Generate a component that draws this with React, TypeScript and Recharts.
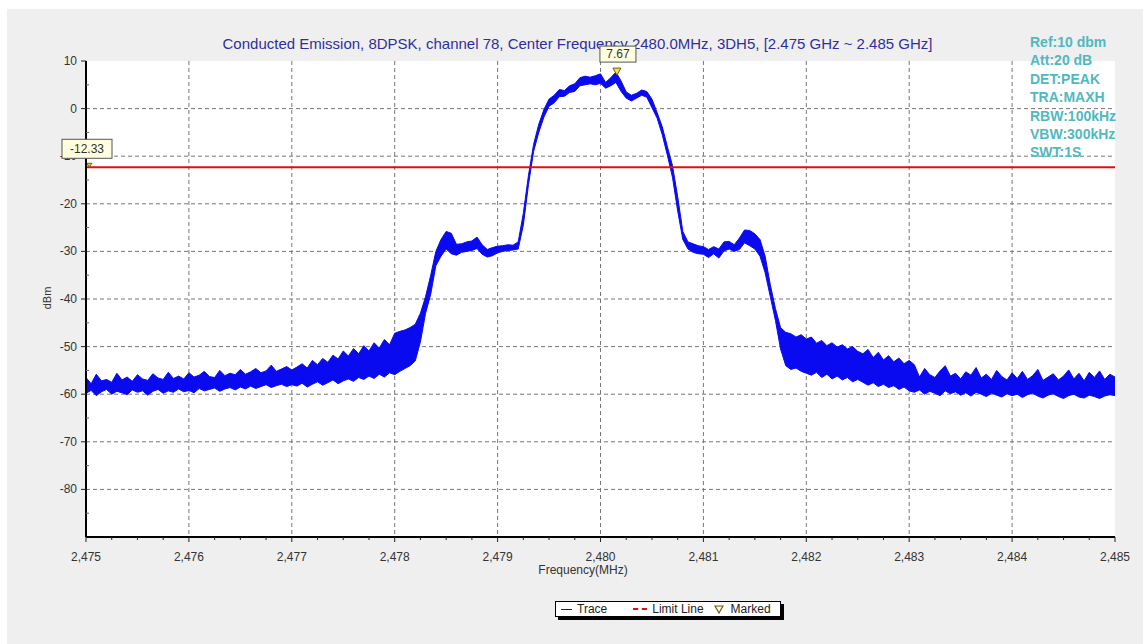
import React from 'react';
import {
  ComposedChart,
  Area,
  XAxis,
  YAxis,
  CartesianGrid,
  ReferenceLine,
  ReferenceDot,
} from 'recharts';

const TITLE =
  'Conducted Emission, 8DPSK, channel 78, Center Frequency 2480.0MHz, 3DH5, [2.475 GHz ~ 2.485 GHz]';
const SETTINGS = ['Ref:10 dbm', 'Att:20 dB', 'DET:PEAK', 'TRA:MAXH', 'RBW:100kHz', 'VBW:300kHz', 'SWT:1S'];

const X_MAJOR = [2475, 2476, 2477, 2478, 2479, 2480, 2481, 2482, 2483, 2484, 2485];
const X_MINOR = [
  2475.25, 2475.5, 2475.75, 2476.25, 2476.5, 2476.75, 2477.25, 2477.5, 2477.75,
  2478.25, 2478.5, 2478.75, 2479.25, 2479.5, 2479.75, 2480.25, 2480.5, 2480.75,
  2481.25, 2481.5, 2481.75, 2482.25, 2482.5, 2482.75, 2483.25, 2483.5, 2483.75,
  2484.25, 2484.5, 2484.75,
];
const Y_MAJOR = [10, 0, -10, -20, -30, -40, -50, -60, -70, -80];
const Y_MINOR = [5, -5, -15, -25, -35, -45, -55, -65, -75, -85];
const Y_GRID = [0, -10, -20, -30, -40, -50, -60, -70, -80];
const X_GRID = [2476, 2477, 2478, 2479, 2480, 2481, 2482, 2483, 2484];

const LIMIT_DBM = -12.33;
const PEAK_FREQ = 2480.15;
const PEAK_DBM = 7.67;

// trace sampled every 50 kHz from 2475 MHz: upper and lower edge of the max-hold band
const F_START = 2475;
const F_STEP = 0.05;
const TRACE_HI = [
  -56.5, -57.8, -55.8, -57.2, -56.9, -57.5, -55.6, -57.0, -56.4, -57.3,
  -55.9, -56.8, -57.1, -55.7, -56.6, -56.9, -55.4, -56.7, -56.2, -56.8,
  -55.5, -56.4, -56.0, -55.2, -56.3, -56.5, -55.0, -56.1, -55.6, -55.9,
  -54.8, -55.8, -55.3, -54.6, -55.5, -55.1, -53.9, -55.2, -54.7, -54.2,
  -54.9, -54.3, -53.6, -54.5, -52.9, -53.8, -52.5, -53.3, -51.8, -52.6,
  -50.9, -52.0, -50.4, -51.5, -49.8, -50.9, -49.2, -50.3, -48.5, -49.6,
  -47.2, -46.8, -46.5, -46.0, -45.3, -43.0, -39.5, -35.0, -30.0, -27.5,
  -25.8, -26.2, -28.5, -28.4, -28.0, -27.8, -27.0, -28.6, -29.6, -29.2,
  -28.9, -28.8, -28.6, -28.7, -28.0, -22.0, -14.0, -7.5, -3.3, -0.2,
  2.0, 2.8, 4.0, 3.8, 4.8, 5.2, 6.5, 6.8, 6.6, 6.9,
  7.3, 5.5, 6.5, 7.67, 5.8, 3.5, 2.8, 3.2, 3.9, 3.6,
  2.0, -0.8, -3.8, -8.0, -12.0, -18.5, -25.8, -28.0, -28.4, -28.8,
  -29.0, -29.6, -29.0, -29.5, -28.0, -27.9, -28.6, -27.2, -25.5, -25.6,
  -26.3, -27.5, -31.0, -37.0, -42.0, -46.0, -47.0, -47.3, -48.0, -47.5,
  -48.4, -48.0, -49.3, -48.7, -49.8, -49.2, -50.1, -49.6, -50.5, -50.0,
  -51.0, -51.5, -50.6, -52.3, -51.2, -52.8, -51.9, -53.2, -52.4, -53.6,
  -52.9, -53.8, -56.4, -54.6, -55.9, -56.5, -55.1, -54.0, -56.2, -55.6,
  -56.8, -55.3, -56.0, -54.4, -56.6, -55.8, -56.9, -55.0, -56.3, -57.0,
  -55.5, -56.7, -55.2, -56.9, -56.1, -54.8, -57.1, -56.4, -55.7, -57.0,
  -56.2, -54.9, -56.8, -55.6, -57.2, -55.4, -56.5, -55.1, -56.9, -55.8,
  -56.4,
];
const TRACE_LO = [
  -59.8, -59.2, -60.3, -59.5, -59.0, -60.0, -59.4, -59.7, -60.1, -59.1,
  -59.6, -59.3, -60.2, -59.4, -59.0, -59.8, -59.3, -59.6, -58.9, -59.5,
  -59.2, -59.7, -58.8, -59.3, -59.0, -58.7, -59.4, -58.9, -58.6, -59.1,
  -58.5, -58.9, -58.3, -58.8, -58.4, -58.0, -58.6, -58.2, -57.9, -58.4,
  -58.0, -58.3, -57.7, -58.5, -57.9, -57.4, -58.1, -57.6, -57.0, -57.8,
  -57.2, -56.8, -57.3, -56.5, -56.9, -56.2, -56.7, -55.8, -56.4, -55.5,
  -55.9, -55.2, -54.6, -54.0, -53.0, -49.0, -43.0, -39.0, -33.0, -31.0,
  -29.5, -30.5, -30.8, -30.2, -30.0, -29.8, -29.4, -30.6, -31.2, -30.9,
  -30.3, -30.0, -29.8, -29.7, -29.5, -24.5, -16.0, -9.0, -5.0, -1.8,
  0.5, 1.2, 2.5, 2.6, 3.4, 3.6, 4.8, 5.0, 5.2, 5.0,
  5.3, 4.3, 4.8, 5.5, 3.6, 2.2, 1.6, 2.2, 2.8, 2.4,
  0.2, -2.0, -5.5, -9.8, -14.5, -21.5, -27.5, -29.5, -30.2, -30.5,
  -30.6, -31.3, -30.5, -31.4, -29.9, -29.5, -30.0, -29.6, -28.2, -28.8,
  -29.5, -31.0, -34.5, -39.5, -44.5, -50.5, -54.0, -54.8, -54.5, -55.2,
  -55.6, -56.0, -55.4, -56.5, -55.8, -56.8, -56.2, -57.0, -56.5, -57.4,
  -56.9, -57.5, -58.1, -57.6, -58.4, -57.9, -58.6, -58.2, -59.0, -58.5,
  -59.3, -59.6, -59.1, -60.0, -59.4, -59.8, -60.3, -59.3, -59.9, -59.5,
  -60.2, -59.7, -60.4, -59.6, -60.0, -60.5, -59.8, -60.2, -60.6, -59.9,
  -60.3, -60.0, -60.7, -60.1, -59.8, -60.4, -60.8, -60.2, -59.9, -60.5,
  -60.9, -60.3, -60.0, -60.6, -60.8, -60.2, -60.5, -60.9, -60.4, -60.1,
  -60.3,
];

const data = TRACE_HI.map((hi, i) => ({
  f: +(F_START + i * F_STEP).toFixed(2),
  band: [TRACE_LO[i], hi],
}));

const FONT = '"Liberation Sans", Arial, sans-serif';
const TRACE_BLUE = '#0a0af0';

const fmtFreq = (v: number) => `${Math.floor(v / 1000)},${String(v % 1000).padStart(3, '0')}`;

const XTick = (props: any) => {
  const { x, y, payload } = props;
  const major = X_MAJOR.includes(payload.value);
  return (
    <g>
      <line x1={x} x2={x} y1={y} y2={y + (major ? 5 : 3)} stroke="#222" />
      {major && (
        <text x={x} y={y + 24} textAnchor="middle" fontSize={12} fill="#333" fontFamily={FONT}>
          {fmtFreq(payload.value)}
        </text>
      )}
    </g>
  );
};

const YTick = (props: any) => {
  const { x, y, payload } = props;
  const major = Y_MAJOR.includes(payload.value);
  if (!major) return <line x1={x} x2={x + 3} y1={y} y2={y} stroke="#666" />;
  return (
    <g>
      <line x1={x - 5} x2={x} y1={y} y2={y} stroke="#222" />
      <text x={x - 9} y={y + 4} textAnchor="end" fontSize={12} fill="#333" fontFamily={FONT}>
        {payload.value}
      </text>
    </g>
  );
};

const PeakMarker = ({ cx, cy }: { cx?: number; cy?: number }) => {
  const x = cx ?? 0;
  const y = cy ?? 0;
  return (
    <g>
      <rect x={x - 16} y={y - 26} width={36} height={16} fill="#ffffe0" stroke="#555" />
      <text x={x + 2} y={y - 14} textAnchor="middle" fontSize={12} fill="#333" fontFamily={FONT}>
        {PEAK_DBM.toFixed(2)}
      </text>
      <polygon points={`${x - 3},${y - 4} ${x + 5},${y - 4} ${x + 1},${y + 3}`} fill="#f2e15c" stroke="#6b5a10" />
    </g>
  );
};

const LimitMarker = ({ cx, cy }: { cx?: number; cy?: number }) => {
  const x = cx ?? 0;
  const y = cy ?? 0;
  return (
    <g>
      <rect x={x - 24} y={y - 28} width={50} height={19} fill="#ffffe0" stroke="#555" />
      <text x={x + 1} y={y - 14} textAnchor="middle" fontSize={12} fill="#333" fontFamily={FONT}>
        {LIMIT_DBM.toFixed(2)}
      </text>
      <polygon points={`${x + 1},${y - 4} ${x + 6},${y - 4} ${x + 3},${y}`} fill="#f2c040" stroke="#8a5a10" />
    </g>
  );
};

export default function App() {
  return (
    <div style={styles.page}>
      <div style={styles.panel} />
      <div style={styles.title}>{TITLE}</div>
      <div style={styles.chart}>
        <ComposedChart width={1148} height={644} data={data} margin={{ top: 61, right: 33, bottom: 77, left: 26 }}>
          <CartesianGrid
            fill="#ffffff"
            stroke="#777"
            strokeDasharray="4 3"
            horizontalValues={Y_GRID}
            verticalValues={X_GRID}
          />
          <XAxis
            dataKey="f"
            type="number"
            domain={[2475, 2485]}
            ticks={[...X_MAJOR, ...X_MINOR].sort((a, b) => a - b)}
            interval={0}
            height={30}
            tickSize={0}
            tickMargin={0}
            tickLine={false}
            tick={XTick}
            axisLine={{ stroke: '#000', strokeWidth: 2 }}
          />
          <YAxis
            type="number"
            domain={[-90, 10]}
            ticks={[...Y_MAJOR, ...Y_MINOR].sort((a, b) => b - a)}
            interval={0}
            width={60}
            tickSize={0}
            tickMargin={0}
            tickLine={false}
            tick={YTick}
            axisLine={{ stroke: '#000', strokeWidth: 2 }}
          />
          <Area
            type="linear"
            dataKey="band"
            stroke={TRACE_BLUE}
            strokeWidth={1}
            fill={TRACE_BLUE}
            fillOpacity={1}
            dot={false}
            activeDot={false}
            isAnimationActive={false}
          />
          <ReferenceLine y={LIMIT_DBM} stroke="#e01010" strokeWidth={2} />
          <ReferenceDot
            x={PEAK_FREQ}
            y={PEAK_DBM}
            r={0}
            zIndex={2500}
            shape={(p: any) => <PeakMarker cx={p.cx} cy={p.cy} />}
          />
          <ReferenceDot
            x={2475}
            y={LIMIT_DBM}
            r={0}
            zIndex={2500}
            shape={(p: any) => <LimitMarker cx={p.cx} cy={p.cy} />}
          />
        </ComposedChart>
      </div>
      <div style={styles.settings}>
        {SETTINGS.map((s) => (
          <div key={s} style={styles.settingLine}>
            {s}
          </div>
        ))}
      </div>
      <div style={styles.yLabel}>dBm</div>
      <div style={styles.xLabel}>Frequency(MHz)</div>
      <div style={styles.legend}>
        <span style={{ ...styles.legendSwatch, borderTop: '1px solid #1a1a70', width: 11 }} />
        <span style={{ marginRight: 26 }}>Trace</span>
        <span style={{ ...styles.legendSwatch, borderTop: '2px dashed #e01010', width: 14 }} />
        <span style={{ marginRight: 10 }}>Limit Line</span>
        <svg width={10} height={10} style={{ marginRight: 7 }}>
          <polygon points="1,2 9,2 5,9" fill="#fffbe0" stroke="#6b5a10" strokeWidth={1.2} />
        </svg>
        <span>Marked</span>
      </div>
    </div>
  );
}

const styles: Record<string, React.CSSProperties> = {
  page: {
    position: 'fixed',
    left: 0,
    top: 0,
    width: 1148,
    height: 644,
    background: '#ffffff',
    overflow: 'hidden',
    fontFamily: FONT,
  },
  panel: {
    position: 'absolute',
    left: 7,
    top: 9,
    width: 1136,
    height: 635,
    background: '#efefef',
  },
  chart: {
    position: 'absolute',
    left: 0,
    top: 0,
  },
  title: {
    position: 'absolute',
    left: 0,
    width: 1155,
    top: 35,
    textAlign: 'center',
    fontSize: 15,
    color: '#2f2f9c',
    whiteSpace: 'nowrap',
  },
  settings: {
    position: 'absolute',
    left: 1030,
    top: 33,
    color: '#4fb9bf',
    fontSize: 14,
    fontWeight: 'bold',
  },
  settingLine: {
    height: 18.4,
    lineHeight: '18.4px',
    whiteSpace: 'nowrap',
  },
  yLabel: {
    position: 'absolute',
    left: 36,
    top: 292,
    fontSize: 11,
    color: '#333',
    transform: 'rotate(-90deg)',
  },
  xLabel: {
    position: 'absolute',
    left: 0,
    width: 1166,
    top: 563,
    textAlign: 'center',
    fontSize: 12,
    color: '#333',
  },
  legend: {
    position: 'absolute',
    left: 555,
    top: 601,
    width: 226,
    height: 16,
    boxSizing: 'border-box',
    border: '1px solid #000',
    boxShadow: '3px 3px 0 #000',
    background: '#ffffff',
    display: 'flex',
    alignItems: 'center',
    paddingLeft: 5,
    fontSize: 12,
    color: '#222',
  },
  legendSwatch: {
    display: 'inline-block',
    height: 0,
    marginRight: 5,
  },
};
